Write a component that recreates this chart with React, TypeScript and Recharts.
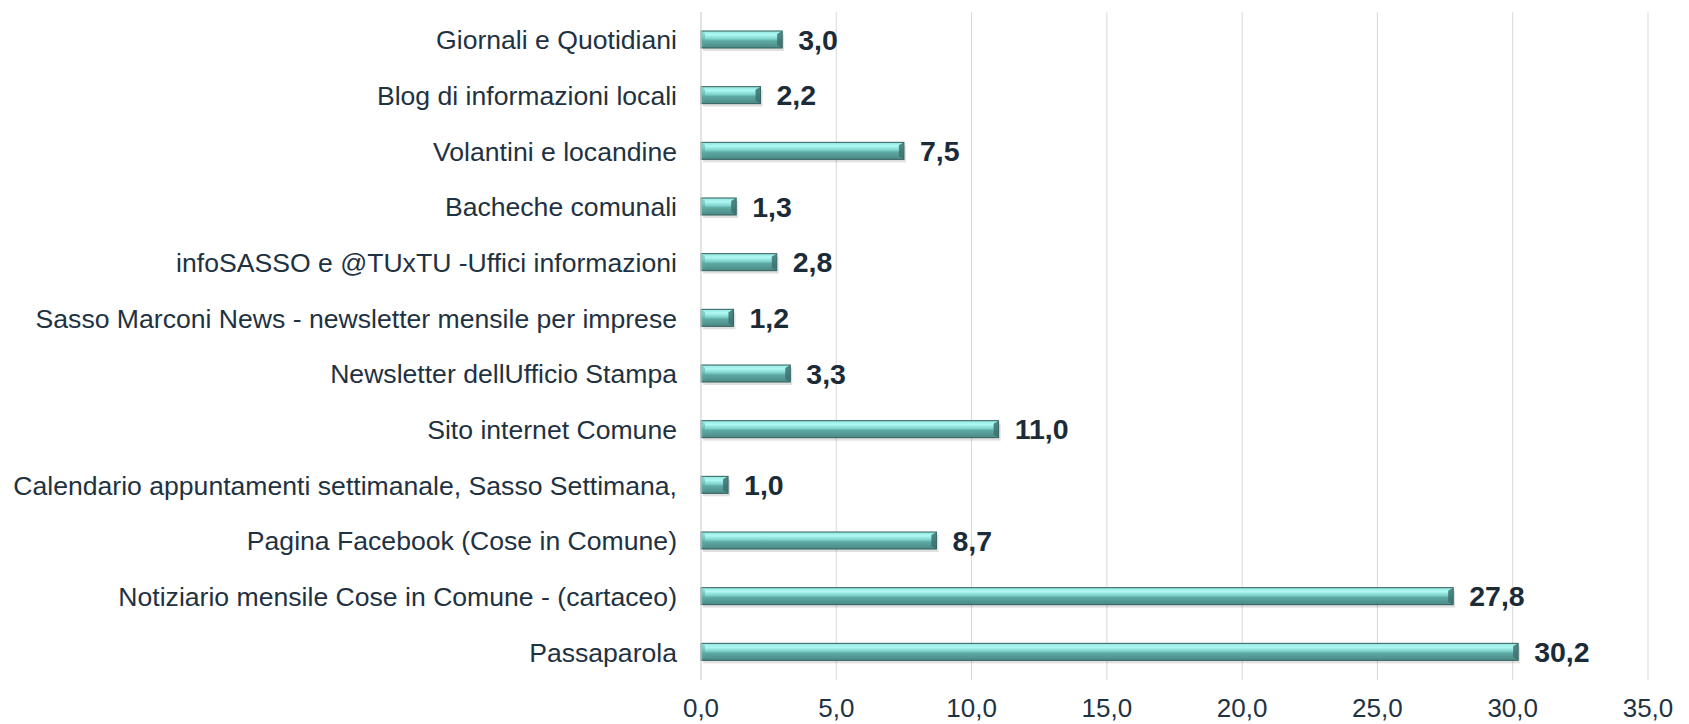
import { BarChart, Bar, XAxis, YAxis, CartesianGrid, LabelList } from 'recharts';

const categories = [
  'Giornali e Quotidiani',
  'Blog di informazioni locali',
  'Volantini e locandine',
  'Bacheche comunali',
  'infoSASSO e @TUxTU -Uffici informazioni',
  'Sasso Marconi News - newsletter mensile per imprese',
  'Newsletter dellUfficio Stampa',
  'Sito internet Comune',
  'Calendario appuntamenti settimanale, Sasso Settimana,',
  'Pagina Facebook (Cose in Comune)',
  'Notiziario mensile Cose in Comune - (cartaceo)',
  'Passaparola',
];

const values = [3.0, 2.2, 7.5, 1.3, 2.8, 1.2, 3.3, 11.0, 1.0, 8.7, 27.8, 30.2];

const xTicks = [0, 5, 10, 15, 20, 25, 30, 35];

const TEXT = '#1f3242';
const FONT = '"Liberation Sans", Arial, sans-serif';

const fmt = (v: number | string) => Number(v).toFixed(1).replace('.', ',');

function BevelBar(props: any) {
  const { x, y, width, height } = props;
  if (!width || width <= 0) return null;
  const b = Math.min(5, width / 2);
  return (
    <g>
      <rect x={x + 2} y={y + 3} width={width} height={height} fill="#000" opacity={0.12} />
      <rect x={x} y={y} width={width} height={height} fill="url(#barGrad)" stroke="#335e5b" strokeWidth={1} />
      <polygon
        points={`${x + width - b},${y + 3} ${x + width},${y} ${x + width},${y + height} ${x + width - b},${y + height - 3}`}
        fill="#3b716e"
        opacity={0.85}
      />
      <polygon
        points={`${x},${y} ${x + 4},${y + 3} ${x + 4},${y + height - 3} ${x},${y + height}`}
        fill="#5aa9a3"
        opacity={0.5}
      />
    </g>
  );
}

export default function App() {
  const data = categories.map((name, i) => ({ name, value: values[i] }));

  return (
    <div style={{ position: 'absolute', left: 0, top: 0, width: 1689, height: 724, background: '#fff' }}>
      <BarChart
        width={1689}
        height={724}
        data={data}
        layout="vertical"
        margin={{ top: 12, right: 41, left: 0, bottom: 0 }}
        barCategoryGap={0}
      >
        <defs>
          <linearGradient id="barGrad" x1="0" y1="0" x2="0" y2="1">
            <stop offset="0%" stopColor="#8fe5df" />
            <stop offset="22%" stopColor="#b0f8f3" />
            <stop offset="45%" stopColor="#7fd5ce" />
            <stop offset="58%" stopColor="#5ea8a3" />
            <stop offset="100%" stopColor="#4a8985" />
          </linearGradient>
        </defs>
        <CartesianGrid horizontal={false} stroke="#d9d9d9" />
        <XAxis
          type="number"
          domain={[0, 35]}
          ticks={xTicks}
          tickFormatter={fmt}
          axisLine={false}
          tickLine={false}
          tickSize={0}
          tickMargin={19}
          height={44}
          tick={{ fill: TEXT, fontSize: 26, fontFamily: FONT }}
        />
        <YAxis
          type="category"
          dataKey="name"
          width={701}
          axisLine={{ stroke: '#d9d9d9' }}
          tickLine={false}
          tickSize={0}
          tickMargin={24}
          interval={0}
          tick={{ fill: TEXT, fontSize: 26.6, fontFamily: FONT }}
        />
        <Bar dataKey="value" barSize={17} shape={<BevelBar />} isAnimationActive={false}>
          <LabelList
            dataKey="value"
            position="right"
            offset={16}
            formatter={fmt}
            fill="#1b2b38"
            fontSize={28.5}
            fontWeight="bold"
            fontFamily={FONT}
          />
        </Bar>
      </BarChart>
    </div>
  );
}
